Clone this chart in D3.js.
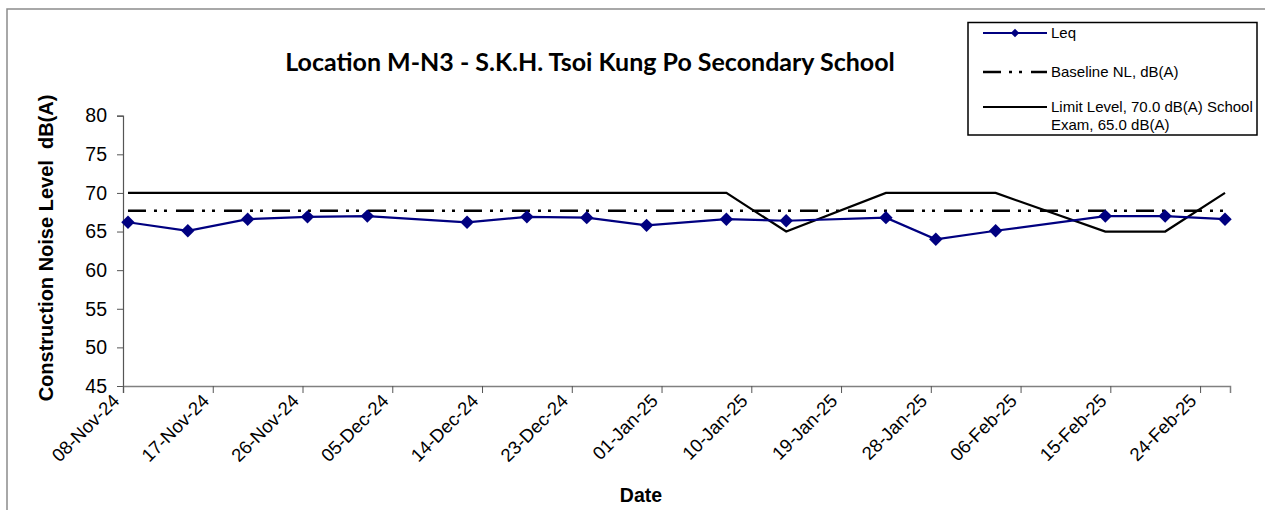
<!DOCTYPE html>
<html>
<head>
<meta charset="utf-8">
<script src="https://cdn.jsdelivr.net/npm/d3@7"></script>
<style>
  html, body { margin: 0; padding: 0; background: #fff; }
  svg { display: block; }
</style>
</head>
<body>
<svg id="chart" width="1265" height="510"></svg>
<script>
// ---- data ----
const dates = ["08-Nov-24","14-Nov-24","20-Nov-24","26-Nov-24","02-Dec-24","12-Dec-24","18-Dec-24","24-Dec-24","30-Dec-24","07-Jan-25","13-Jan-25","23-Jan-25","28-Jan-25","03-Feb-25","14-Feb-25","20-Feb-25","26-Feb-25"];
const leq = [66.2, 65.1, 66.6, 66.9, 67.0, 66.2, 66.9, 66.8, 65.8, 66.6, 66.4, 66.8, 64.0, 65.1, 67.0, 67.0, 66.6];
const baseline = [67.7, 67.7, 67.7, 67.7, 67.7, 67.7, 67.7, 67.7, 67.7, 67.7, 67.7, 67.7, 67.7, 67.7, 67.7, 67.7, 67.7];
const limit = [70, 70, 70, 70, 70, 70, 70, 70, 70, 70, 65, 70, 70, 70, 65, 65, 70];
const xTickLabels = ["08-Nov-24","17-Nov-24","26-Nov-24","05-Dec-24","14-Dec-24","23-Dec-24","01-Jan-25","10-Jan-25","19-Jan-25","28-Jan-25","06-Feb-25","15-Feb-25","24-Feb-25"];
const yTicks = [45, 50, 55, 60, 65, 70, 75, 80];
const axisStart = "08-Nov-24";
const axisEnd = "27-Feb-25";
const legendLabels = ["Leq", "Baseline NL, dB(A)", ["Limit Level, 70.0 dB(A) School", "Exam, 65.0 dB(A)"]];
const titleText = "Location M-N3 - S.K.H. Tsoi Kung Po Secondary School";
const yTitle = "Construction Noise Level  dB(A)";
const xTitle = "Date";

// ---- setup ----
const parse = d3.utcParse("%d-%b-%y");
const HALF_DAY = 12 * 3600 * 1000;
const svg = d3.select("#chart");
const font = "'Liberation Sans', Arial, sans-serif";

const x = d3.scaleUtc().domain([parse(axisStart), parse(axisEnd)]).range([123, 1230]);
const y = d3.scaleLinear().domain([45, 80]).range([386, 115.7]);
const px = d => x(new Date(parse(d).getTime() + HALF_DAY));

// chart border
svg.append("path").attr("d", "M7,510 V9 H1265").attr("fill", "none").attr("stroke", "#8c8c8c").attr("stroke-width", 1.5);

// title
svg.append("text").attr("x", 590).attr("y", 71).attr("text-anchor", "middle")
  .attr("font-family", "Lato, 'Open Sans', sans-serif").attr("font-weight", "bold").attr("font-size", 25)
  .attr("fill", "#000").text(titleText);

// y axis
const yAxis = d3.axisLeft(y).tickValues(yTicks).tickSize(6).tickPadding(10).tickFormat(d3.format("d"));
const gy = svg.append("g").attr("transform", "translate(123,0)").call(yAxis);
gy.select(".domain").attr("stroke", "#555").attr("stroke-width", 1.2);
gy.selectAll(".tick line").attr("stroke", "#555");
gy.selectAll(".tick text").attr("font-family", font).attr("font-size", 19.5).attr("fill", "#000");

// x axis
const xAxis = d3.axisBottom(x).tickValues(xTickLabels.map(parse)).tickSize(7).tickFormat(d3.utcFormat("%d-%b-%y"));
const gx = svg.append("g").attr("transform", "translate(0,386)").call(xAxis);
gx.select(".domain").attr("stroke", "#808080").attr("stroke-width", 1.5);
gx.selectAll(".tick line").attr("stroke", "#555");
gx.selectAll(".tick text").attr("font-family", font).attr("font-size", 18.5).attr("fill", "#000")
  .attr("text-anchor", "end").attr("dy", null).attr("y", 0)
  .attr("transform", "translate(-3,16) rotate(-45)");

// axis titles
svg.append("text").attr("transform", "translate(53,248) rotate(-90)").attr("text-anchor", "middle")
  .style("white-space", "pre")
  .attr("font-family", font).attr("font-weight", "bold").attr("font-size", 20).text(yTitle);
svg.append("text").attr("x", 641).attr("y", 502).attr("text-anchor", "middle")
  .attr("font-family", font).attr("font-weight", "bold").attr("font-size", 19.5).text(xTitle);

// lines
const line = vals => d3.line().x((d, i) => px(dates[i])).y(d => y(d))(vals);
svg.append("path").attr("d", line(baseline)).attr("fill", "none").attr("stroke", "#000")
  .attr("stroke-width", 2.5).attr("stroke-dasharray", "18,8,3,7,3,9");
svg.append("path").attr("d", line(limit)).attr("fill", "none").attr("stroke", "#000").attr("stroke-width", 2.2);
svg.append("path").attr("d", line(leq)).attr("fill", "none").attr("stroke", "#000080").attr("stroke-width", 2.2);
svg.append("g").selectAll("path").data(leq).join("path")
  .attr("transform", (d, i) => `translate(${px(dates[i])},${y(d)}) rotate(45)`)
  .attr("d", d3.symbol().type(d3.symbolSquare).size(90))
  .attr("fill", "#000080");

// legend
const lg = svg.append("g");
lg.append("rect").attr("x", 968).attr("y", 22.5).attr("width", 289).attr("height", 112.5)
  .attr("fill", "#fff").attr("stroke", "#000").attr("stroke-width", 1.5);
const lx1 = 983, lx2 = 1047, tx = 1051;
const rows = [33, 72, 107];
lg.append("line").attr("x1", lx1).attr("x2", lx2).attr("y1", rows[0]).attr("y2", rows[0]).attr("stroke", "#000080").attr("stroke-width", 2);
lg.append("path").attr("transform", `translate(${(lx1 + lx2) / 2},${rows[0]}) rotate(45)`)
  .attr("d", d3.symbol().type(d3.symbolSquare).size(36)).attr("fill", "#000080");
lg.append("line").attr("x1", lx1).attr("x2", lx2).attr("y1", rows[1]).attr("y2", rows[1]).attr("stroke", "#000")
  .attr("stroke-width", 2.5).attr("stroke-dasharray", "18,8,3,7,3,9");
lg.append("line").attr("x1", lx1).attr("x2", lx2).attr("y1", rows[2]).attr("y2", rows[2]).attr("stroke", "#000").attr("stroke-width", 2);
legendLabels.forEach((lab, i) => {
  const t = lg.append("text").attr("x", tx).attr("y", rows[i] + 5).attr("font-family", font).attr("font-size", 15).attr("fill", "#000");
  if (Array.isArray(lab)) {
    lab.forEach((l, j) => t.append("tspan").attr("x", tx).attr("dy", j === 0 ? 0 : 18).text(l));
  } else t.text(lab);
});
</script>
</body>
</html>
